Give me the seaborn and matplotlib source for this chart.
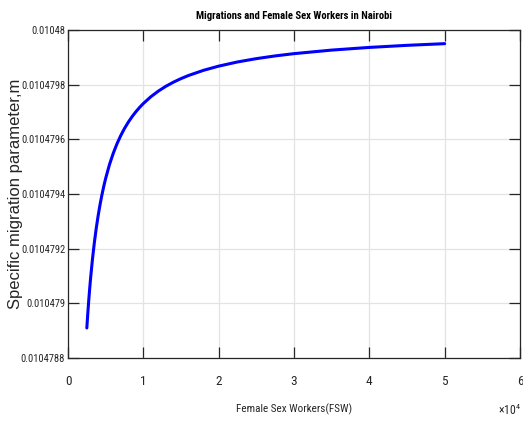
import matplotlib
matplotlib.use("Agg")
import matplotlib.pyplot as plt
import seaborn as sns
import pandas as pd

# values
fsw = [2500, 2625, 2750, 2875, 3000, 3250, 3500, 3750, 4000, 4250, 4500,
       4750, 5000, 5500, 6000, 6500, 7000, 7500, 8000, 8500, 9000, 9500,
       10000, 11000, 12000, 13000, 14000, 15000, 16000, 18000, 20000,
       22500, 25000, 27500, 30000, 35000, 40000, 45000, 50000]
migration_m = [0.0104789099, 0.0104789620, 0.0104790094, 0.0104790527,
               0.0104790924, 0.0104791625, 0.0104792227, 0.0104792748,
               0.0104793204, 0.0104793607, 0.0104793965, 0.0104794285,
               0.0104794573, 0.0104795071, 0.0104795485, 0.0104795836,
               0.0104796137, 0.0104796398, 0.0104796626, 0.0104796827,
               0.0104797006, 0.0104797166, 0.0104797310, 0.0104797559,
               0.0104797766, 0.0104797942, 0.0104798092, 0.0104798222,
               0.0104798336, 0.0104798526, 0.0104798678, 0.0104798831,
               0.0104798952, 0.0104799052, 0.0104799135, 0.0104799265,
               0.0104799363, 0.0104799439, 0.0104799500]

x_ticks = [0, 10000, 20000, 30000, 40000, 50000, 60000]
x_tick_labels = ["0", "1", "2", "3", "4", "5", "6"]
y_ticks = [0.0104788, 0.0104790, 0.0104792, 0.0104794, 0.0104796,
           0.0104798, 0.0104800]
y_tick_labels = ["0.0104788", "0.010479", "0.0104792", "0.0104794",
                 "0.0104796", "0.0104798", "0.01048"]

df = pd.DataFrame({"FSW": fsw, "m": migration_m})

sns.set_theme(style="ticks")
narrow = ["Roboto Condensed", "Liberation Sans Narrow", "Liberation Sans",
          "DejaVu Sans"]
plt.rcParams["font.family"] = narrow
plt.rcParams["mathtext.default"] = "regular"

fig = plt.figure(figsize=(5.23, 4.21), dpi=100)
ax = fig.add_axes([68 / 523, 63 / 421, 452 / 523, 328 / 421])

sns.lineplot(data=df, x="FSW", y="m", color="#0000ff", linewidth=2.2, ax=ax)

ax.set_xlim(0, 60000)
ax.set_ylim(0.0104788, 0.0104800)
ax.set_xticks(x_ticks)
ax.set_xticklabels(x_tick_labels, fontsize=9.5)
ax.set_yticks(y_ticks)
ax.set_yticklabels(y_tick_labels, fontsize=7.6)

ax.grid(True, color="#e3e3e3", linewidth=0.9)
ax.set_axisbelow(True)
for s in ax.spines.values():
    s.set_color("#262626")
    s.set_linewidth(0.9)
ax.tick_params(direction="in", length=8, width=0.9, color="#262626",
               top=True, right=True, labelcolor="#262626")
ax.tick_params(axis="x", pad=12)
ax.tick_params(axis="y", pad=2)

ax.set_title("Migrations and Female Sex Workers in Nairobi",
             fontsize=7.7, fontweight="bold", pad=8, color="black")
ax.set_xlabel("Female Sex Workers(FSW)", fontsize=8, color="#262626")
ax.xaxis.set_label_coords(0.5, -0.14)
ax.set_ylabel("Specific migration parameter,m", fontsize=12,
              family=["Liberation Sans", "DejaVu Sans"], color="#262626")
ax.yaxis.set_label_coords(-0.1, 0.5)

fig.text(521 / 523, 1 - 410 / 421, "×10$^{4}$", ha="right", va="center",
         fontsize=8.5, color="#262626")

fig.savefig("out.png", dpi=100)
